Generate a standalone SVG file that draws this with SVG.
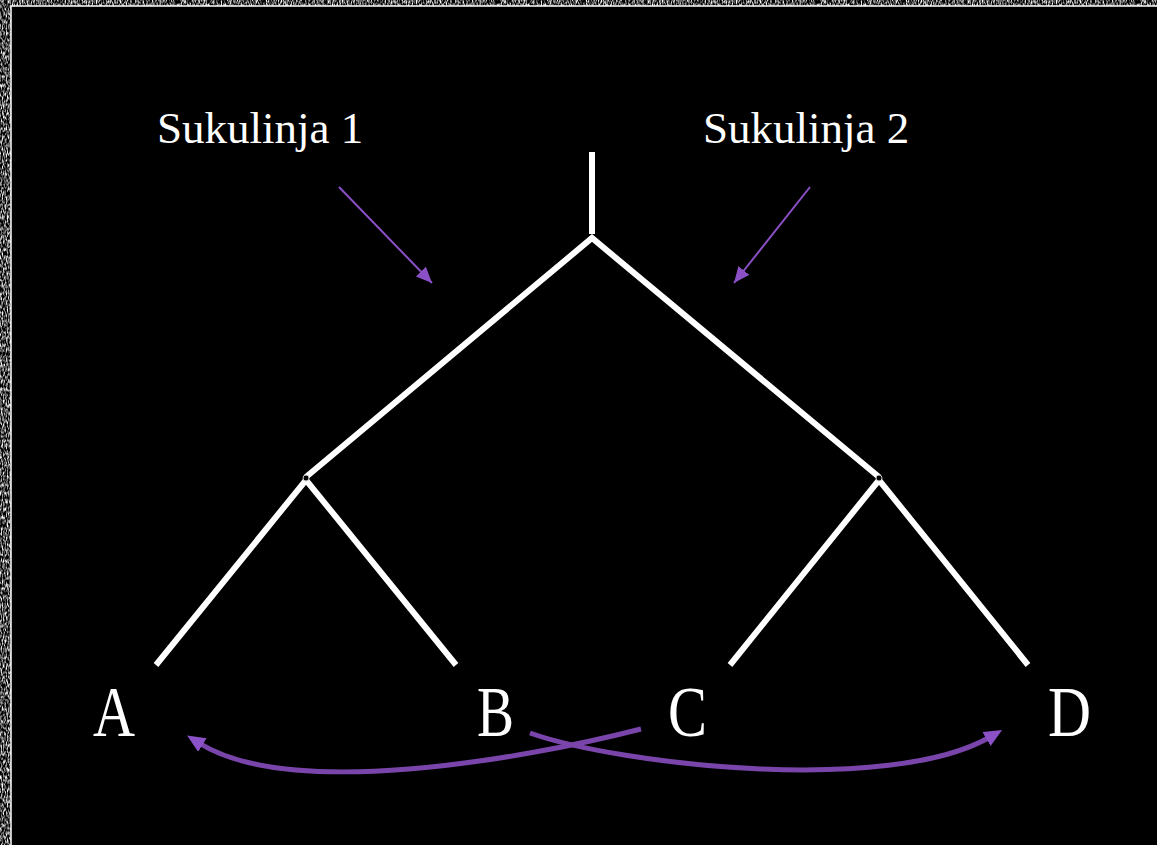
<svg xmlns="http://www.w3.org/2000/svg" width="1157" height="845" viewBox="0 0 1157 845">
  <defs>
    <filter id="grain" x="0" y="0" width="100%" height="100%">
      <feTurbulence type="fractalNoise" baseFrequency="0.8 0.25" numOctaves="2" seed="7" result="n"/>
      <feColorMatrix in="n" type="matrix" values="0 0 0 0 1  0 0 0 0 1  0 0 0 0 1  2.6 0 0 0 -1.0"/>
    </filter>
    <marker id="headSmall" markerUnits="userSpaceOnUse" markerWidth="20" markerHeight="16" refX="16" refY="7" orient="auto">
      <path d="M0,0 L16,7 L0,14 Z" fill="#8b4fc6"/>
    </marker>
    <marker id="headBig" markerUnits="userSpaceOnUse" markerWidth="22" markerHeight="20" refX="4" refY="8" orient="auto">
      <path d="M0,0 L18,8 L0,16 Z" fill="#8b52c8"/>
    </marker>
    <style>
      .label { fill: #ffffff; }
      .title { font-size: 45px; }
      .leaf { font-size: 72px; }
      .branch { stroke: #ffffff; stroke-width: 6; fill: none; stroke-linecap: butt; }
      .pointer { stroke: #8b4fc6; stroke-width: 2; fill: none; }
      .swap { stroke: #7a45aa; stroke-width: 5; fill: none; }
    </style>
  </defs>

  <!-- textured frame -->
  <rect x="0" y="0" width="1157" height="845" fill="#000000"/>
  <rect x="0" y="0" width="1157" height="845" filter="url(#grain)"/>
  <rect x="11" y="6" width="1150" height="845" fill="#000000" stroke="#ffffff" stroke-width="1.5"/>

  <g id="tree">
    <line class="branch" x1="592" y1="152" x2="592" y2="234" stroke-width="5"/>
    <polyline class="branch" points="306,477 592,238 879,477"/>
    <polyline class="branch" points="156,665 306,480 456,665"/>
    <polyline class="branch" points="730,665 879,480 1028,665"/>
    <circle cx="306" cy="478" r="3" fill="#000" stroke="#cfcfcf" stroke-width="1"/>
    <circle cx="879" cy="478" r="3" fill="#000" stroke="#cfcfcf" stroke-width="1"/>
  </g>

  <g id="sukulinja1">
    <text class="label title" font-family="'Liberation Serif', 'Times New Roman', serif" x="157" y="143">Sukulinja 1</text>
  </g>
  <g id="sukulinja2">
    <text class="label title" font-family="'Liberation Serif', 'Times New Roman', serif" x="703" y="143">Sukulinja 2</text>
  </g>

  <g id="leafA"><text class="label leaf" font-family="'Liberation Serif', 'Times New Roman', serif" x="93" y="736" textLength="42" lengthAdjust="spacingAndGlyphs">A</text></g>
  <g id="leafB"><text class="label leaf" font-family="'Liberation Serif', 'Times New Roman', serif" x="477" y="736" textLength="37" lengthAdjust="spacingAndGlyphs">B</text></g>
  <g id="leafC"><text class="label leaf" font-family="'Liberation Serif', 'Times New Roman', serif" x="668" y="736" textLength="39" lengthAdjust="spacingAndGlyphs">C</text></g>
  <g id="leafD"><text class="label leaf" font-family="'Liberation Serif', 'Times New Roman', serif" x="1048" y="736" textLength="43" lengthAdjust="spacingAndGlyphs">D</text></g>

  <g id="connectors">
    <line class="pointer" x1="339" y1="187" x2="432" y2="283" marker-end="url(#headSmall)"/>
    <line class="pointer" x1="810" y1="187" x2="734" y2="283" marker-end="url(#headSmall)"/>
    <path class="swap" d="M641,729 C520,760 290,800 199,743" marker-end="url(#headBig)"/>
    <path class="swap" d="M530,733 C620,765 890,795 990,737" marker-end="url(#headBig)"/>
  </g>
</svg>
